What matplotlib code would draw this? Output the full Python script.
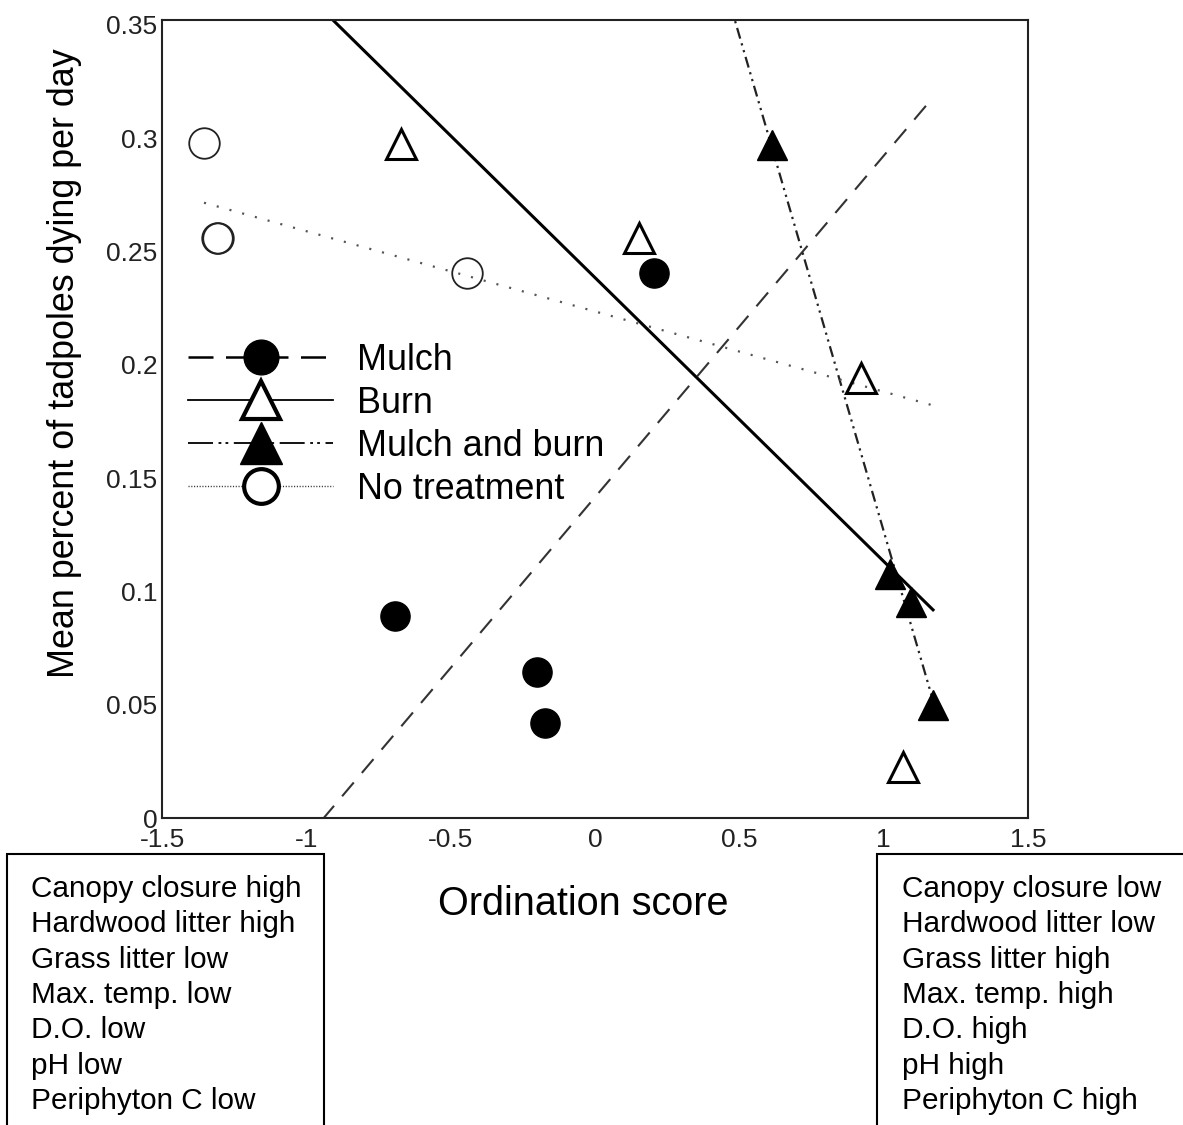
import matplotlib
matplotlib.use('Agg')
import matplotlib.pyplot as plt
from matplotlib.lines import Line2D
from matplotlib.patches import Rectangle
import numpy as np

plt.rcParams['font.family'] = ['Liberation Sans', 'DejaVu Sans']
plt.rcParams['lines.scale_dashes'] = False

# ---------------- data ----------------
mulch_x = [-0.693, -0.202, -0.173, 0.204]
mulch_y = [0.0892, 0.0646, 0.0419, 0.2405]
burn_x = [-0.673, 0.152, 0.921, 1.067]
burn_y = [0.2976, 0.2560, 0.1942, 0.0225]
mulchburn_x = [0.613, 1.022, 1.095, 1.171]
mulchburn_y = [0.2970, 0.1077, 0.0953, 0.0499]
none_x = [-1.3545, -1.308, -1.307, -0.443]
none_y = [0.2979, 0.2562, 0.2558, 0.2407]

series_labels = ['Mulch', 'Burn', 'Mulch and burn', 'No treatment']
xticks = [-1.5, -1, -0.5, 0, 0.5, 1, 1.5]
xtick_labels = ['-1.5', '-1', '-0.5', '0', '0.5', '1', '1.5']
yticks = [0, 0.05, 0.1, 0.15, 0.2, 0.25, 0.3, 0.35]
ytick_labels = ['0', '0.05', '0.1', '0.15', '0.2', '0.25', '0.3', '0.35']
x_label = 'Ordination score'
y_label = 'Mean percent of tadpoles dying per day'
left_box_lines = ['Canopy closure high', 'Hardwood litter high', 'Grass litter low',
                  'Max. temp. low', 'D.O. low', 'pH low', 'Periphyton C low']
right_box_lines = ['Canopy closure low', 'Hardwood litter low', 'Grass litter high',
                   'Max. temp. high', 'D.O. high', 'pH high', 'Periphyton C high']

# ---------------- figure ----------------
W, H = 1183, 1125
fig = plt.figure(figsize=(W / 100, H / 100), dpi=100)
fig.patch.set_facecolor('white')
ax = fig.add_axes([162 / W, 1 - 818 / H, 866 / W, 798 / H])
ax.set_xlim(-1.5, 1.5)
ax.set_ylim(0, 0.3522)

styles = {
    'Mulch': dict(x=mulch_x, y=mulch_y, marker='o', mfc='black', mec='black', ms=21, mew=1.0,
                  lcolor='#333333', lw=1.5, dashes=(13, 9)),
    'Burn': dict(x=burn_x, y=burn_y, marker='^', mfc='none', mec='black', ms=22, mew=2.2,
                 lcolor='black', lw=2.2, dashes=None),
    'Mulch and burn': dict(x=mulchburn_x, y=mulchburn_y, marker='^', mfc='black', mec='black', ms=22, mew=1.0,
                           lcolor='#222222', lw=1.6, dashes=(8, 3.5, 1.6, 3.5, 1.6, 3.5)),
    'No treatment': dict(x=none_x, y=none_y, marker='o', mfc='none', mec='#222222', ms=22, mew=1.3,
                         lcolor='#555555', lw=1.6, dashes=(1.5, 8.0)),
}

all_x = np.concatenate([mulch_x, burn_x, mulchburn_x, none_x])
xr = np.array([all_x.min(), all_x.max()])

for name in series_labels:
    s = styles[name]
    b, a = np.polyfit(s['x'], s['y'], 1)
    ln, = ax.plot(xr, a + b * xr, color=s['lcolor'], lw=s['lw'], zorder=2)
    if s['dashes'] is not None:
        ln.set_dashes(s['dashes'])
    ax.plot(s['x'], s['y'], linestyle='none', marker=s['marker'], mfc=s['mfc'], mec=s['mec'],
            ms=s['ms'], mew=s['mew'], zorder=3)

ax.set_xticks(xticks)
ax.set_xticklabels(xtick_labels)
ax.set_yticks(yticks)
ax.set_yticklabels(ytick_labels)
ax.tick_params(length=0, labelsize=19, labelcolor='#222222')
ax.tick_params(axis='x', pad=7.5)
ax.tick_params(axis='y', pad=3.5)
for sp in ax.spines.values():
    sp.set_linewidth(1.5)
    sp.set_color('#222222')

# axis labels
fig.text(74 / W, 1 - 363 / H, y_label, rotation=90, rotation_mode='anchor',
         ha='center', va='baseline', fontsize=25.8, color='black')
fig.text(583 / W, 1 - 915 / H, x_label, ha='center', va='baseline', fontsize=28.5, color='black')

# legend
handles = [
    Line2D([], [], color='black', lw=1.8, dashes=(18, 9), marker='o', mfc='black', mec='black', ms=25),
    Line2D([], [], color='black', lw=1.3, marker='^', mfc='white', mec='black', ms=27, mew=3),
    Line2D([], [], color='black', lw=1.3, dashes=(18, 4, 2, 3, 2, 4), marker='^', mfc='black', mec='black', ms=30),
    Line2D([], [], color='#333333', lw=1.0, dashes=(0.8, 1.2), marker='o', mfc='white', mec='black', ms=25, mew=3),
]
fig.legend(handles, series_labels, loc='upper left', bbox_to_anchor=(188 / W, 1 - 343 / H),
           bbox_transform=fig.transFigure, frameon=False, fontsize=25.8, handlelength=4.05,
           handletextpad=0.67, labelspacing=0.22, borderpad=0, borderaxespad=0)

# boxes with site descriptions
fig.add_artist(Rectangle((7 / W, -0.05), (324 - 7) / W, 0.05 + (1 - 854 / H),
                         transform=fig.transFigure, fill=False, lw=1.5, ec='black'))
fig.add_artist(Rectangle((877 / W, -0.05), 0.3, 0.05 + (1 - 854 / H),
                         transform=fig.transFigure, fill=False, lw=1.5, ec='black'))
for i, (lt, rt) in enumerate(zip(left_box_lines, right_box_lines)):
    yb = 897 + i * 35.3
    fig.text(31 / W, 1 - yb / H, lt, ha='left', va='baseline', fontsize=21.4, color='black')
    fig.text(902 / W, 1 - yb / H, rt, ha='left', va='baseline', fontsize=21.4, color='black')

fig.savefig('out.png', dpi=100)
